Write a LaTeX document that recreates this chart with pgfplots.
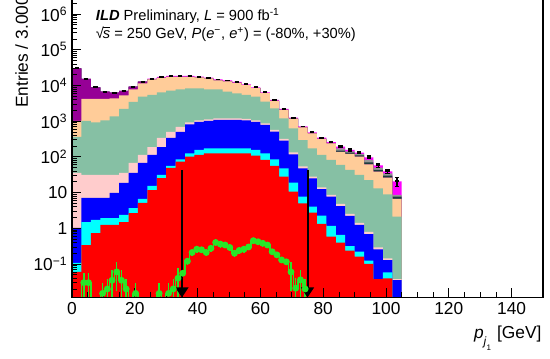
\documentclass[border=0pt]{standalone}
\usepackage{fontspec}
\setmainfont{Liberation Sans}
\usepackage{pgfplots}
\pgfplotsset{compat=1.18}
\usepackage{pgfplotstable}
\usetikzlibrary{arrows.meta}
\definecolor{cRed}{RGB}{255,0,0}
\definecolor{cCyan}{RGB}{0,255,255}
\definecolor{cBlue}{RGB}{0,0,255}
\definecolor{cPink}{RGB}{255,204,204}
\definecolor{cSea}{RGB}{134,192,164}
\definecolor{cPeach}{RGB}{255,204,153}
\definecolor{cPurple}{RGB}{150,0,150}
\definecolor{cTeal}{RGB}{25,60,60}
\definecolor{cGray}{RGB}{150,150,150}
\definecolor{cMag}{RGB}{255,0,255}
\definecolor{cGreen}{RGB}{40,230,40}

% cumulative stack tops, 3 GeV bins (left edges); first/last rows close the fills at the bottom
\pgfplotstableread{
x red cyan blue pink sea peach purple teal gray total
0 0.005 0.005 0.005 0.005 0.005 0.005 0.005 0.005 0.005 0.005
0 0.060 0.107 1.02 35.4 361 1013 30330 30330 30330 30330
3 0.340 1.50 7.06 31.1 1013 4185 15210 15210 15210 15210
6 0.738 1.71 7.06 31.1 919 4185 8906 8906 8906 8906
9 1.24 1.94 7.06 31.1 1046 4185 6703 6703 6703 6703
12 1.24 1.94 9.74 31.1 1354 4324 6284 6284 6284 6284
15 1.50 2.36 18.6 35.4 2196 5247 7015 7015 7015 7015
18 2.68 3.70 35.4 67.5 3450 7727 9256 9256 9256 9256
21 5.11 6.62 67.5 113 4857 11380 12780 12780 12780 12780
24 11.8 15.3 113 189 5418 14730 14730 14730 14730 15510
27 25.6 31.1 189 338 6449 16430 16430 16430 16430 17300
30 48.9 55.6 338 498 7151 17530 17530 17530 17530 18460
33 73.4 84.6 498 688 7828 17530 17530 17530 17530 18460
36 101 126 808 919 8348 17530 17530 17530 17530 18460
39 113 156 950 1046 8348 16750 16750 16750 16750 17640
42 126 174 1013 1116 7828 15710 15710 15710 15710 16540
45 126 174 1080 1190 7828 13990 13990 13990 13990 14730
48 126 174 1080 1190 6703 13110 13110 13110 13110 13800
51 126 174 1080 1190 6046 11900 11900 11900 11900 12530
54 126 174 1046 1152 5418 10260 10260 10260 10260 10800
57 108 156 950 1046 4857 8457 8457 8457 8457 8906
60 81.9 126 783 862 3518 6124 6124 6124 6124 6449
63 55.6 85.7 508 567 2298 3728 3728 3728 3728 3925
66 27.9 47.9 284 317 1206 2086 2086 2086 2086 2196
69 10.6 18.9 118 133 633 1175 1175 1175 1175 1253
72 5.01 7.68 47.9 53.8 297 666 666 666 666 710
75 2.74 4.03 25.2 28.2 174 452 452 452 452 489
78 1.32 2.25 12.4 13.9 113 317 317 317 317 345
81 0.582 1.16 7.68 8.57 81.9 237 237 237 237 261
84 0.395 0.649 4.21 4.79 59.3 137 137 149 172 193
87 0.236 0.319 2.21 2.52 43.0 121 121 131 142 156
90 0.160 0.221 1.24 1.41 31.1 101 101 111 121 131
93 0.100 0.124 0.692 0.788 22.5 62.0 62.0 70.6 81.9 97.4
96 0.038 0.038 0.258 0.290 13.2 38.5 38.5 43.0 49.8 58.2
99 0.0398 0.0586 0.129 0.143 8.96 26.2 26.2 29.7 34.7 39.5
102 0.005 0.005 0.0356 0.038 2.11 6.62 6.62 7.68 8.57 20.7
105 0.005 0.005 0.0356 0.038 2.11 6.62 6.62 7.68 8.57 20.7
105 0.005 0.005 0.005 0.005 0.005 0.005 0.005 0.005 0.005 0.005
}\stack

\pgfplotstableread{
x y e
1.5 30330 0
4.5 15210 0
7.5 8906 0
10.5 6703 0
13.5 6284 0
16.5 7015 0
19.5 9256 0
22.5 12780 0
25.5 15510 0
28.5 17300 0
31.5 18460 0
34.5 18460 0
37.5 18460 0
40.5 17640 0
43.5 16540 0
46.5 14730 0
49.5 13800 0
52.5 12530 0
55.5 10800 0
58.5 8906 0
61.5 6449 0
64.5 3925 0
67.5 2196 0
70.5 1253 0
73.5 710 0
76.5 489 0
79.5 345 0
82.5 261 0
85.5 193 10
88.5 156 10
91.5 131 8.5
94.5 97.4 9.5
97.5 58.2 6.4
100.5 39.5 5
103.5 20.7 6
}\datapts

% signal histogram, 1.5 GeV bins (left edges where the value changes); empty bins sit on the frame
\pgfplotstableread{
x y
0 0.0115
3 0.03
6 0.0115
9 0.015
10.5 0.02
12 0.035
13.5 0.06
15 0.035
16.5 0.02
18 0.0115
19.5 0.015
21 0.0115
27 0.015
28.5 0.0115
30 0.015
31.5 0.02
33 0.04
34.5 0.055
36 0.12
37.5 0.21
39 0.26
40.5 0.25
42 0.21
43.5 0.275
45 0.40
46.5 0.36
48 0.34
49.5 0.29
51 0.20
52.5 0.24
54 0.26
55.5 0.30
57 0.45
58.5 0.42
60 0.38
61.5 0.34
63 0.22
64.5 0.18
66 0.13
67.5 0.115
69 0.06
70.5 0.021
72 0.036
73.5 0.02
75 0.0115
150 0.0115
}\greenline

\pgfplotstableread{
x y ep em
3.75 0.03 0.027 0.021
5.25 0.03 0.027 0.021
9.75 0.015 0.0135 0.0105
11.25 0.02 0.018 0.014
12.75 0.035 0.0315 0.0245
14.25 0.06 0.054 0.042
15.75 0.035 0.0315 0.0245
17.25 0.02 0.018 0.014
20.25 0.015 0.0135 0.0105
27.75 0.015 0.0135 0.0105
30.75 0.015 0.0135 0.0105
32.25 0.02 0.018 0.014
33.75 0.04 0.036 0.028
35.25 0.055 0.05 0.0385
36.75 0.12 0.024 0.024
38.25 0.21 0.042 0.042
39.75 0.26 0.052 0.052
41.25 0.25 0.05 0.05
42.75 0.21 0.042 0.042
44.25 0.275 0.055 0.055
45.75 0.40 0.08 0.08
47.25 0.36 0.072 0.072
48.75 0.34 0.068 0.068
50.25 0.29 0.058 0.058
51.75 0.20 0.04 0.04
53.25 0.24 0.048 0.048
54.75 0.26 0.052 0.052
56.25 0.30 0.06 0.06
57.75 0.45 0.09 0.09
59.25 0.42 0.084 0.084
60.75 0.38 0.076 0.076
62.25 0.34 0.068 0.068
63.75 0.22 0.044 0.044
65.25 0.18 0.036 0.036
66.75 0.13 0.026 0.026
68.25 0.115 0.023 0.023
69.75 0.06 0.054 0.042
71.25 0.021 0.019 0.015
72.75 0.036 0.032 0.025
74.25 0.02 0.018 0.014
}\greenerr

\begin{document}
\begin{tikzpicture}
\begin{axis}[
  at={(0,0)}, anchor=south west,
  scale only axis, width=353.25pt, height=255.4pt,
  xmin=0, xmax=150, ymode=log, ymin=0.01153, ymax=3.975e7,
  axis on top,
  tick pos=left,
  xtick={0,20,40,60,80,100,120,140}, minor x tick num=3,
  ytick={0.1,1,10,100,1000,10000,100000,1000000},
  yticklabels={10\textsuperscript{−1},1,10,10\textsuperscript{2},10\textsuperscript{3},10\textsuperscript{4},10\textsuperscript{5},10\textsuperscript{6}},
  minor ytick={0.02,0.03,0.04,0.05,0.06,0.07,0.08,0.09,0.2,0.3,0.4,0.5,0.6,0.7,0.8,0.9,2,3,4,5,6,7,8,9,20,30,40,50,60,70,80,90,200,300,400,500,600,700,800,900,2000,3000,4000,5000,6000,7000,8000,9000,20000,30000,40000,50000,60000,70000,80000,90000,200000,300000,400000,500000,600000,700000,800000,900000,2000000,3000000,4000000,5000000,6000000,7000000,8000000,9000000},
  major tick length=7pt, minor tick length=4pt,
  tick style={black, line width=0.6pt},
  ticklabel style={font=\fontsize{13}{15}\selectfont},
  /pgf/number format/assume math mode=true,
  axis line style={line width=0.8pt},
]
\addplot[fill=cMag, draw=none, const plot] table[x=x, y=total] {\stack};
\addplot[fill=cGray, draw=none, const plot] table[x=x, y=gray] {\stack};
\addplot[fill=cTeal, draw=none, const plot] table[x=x, y=teal] {\stack};
\addplot[fill=cPurple, draw=none, const plot] table[x=x, y=purple] {\stack};
\addplot[fill=cPeach, draw=none, const plot] table[x=x, y=peach] {\stack};
\addplot[fill=cSea, draw=none, const plot] table[x=x, y=sea] {\stack};
\addplot[fill=cPink, draw=none, const plot] table[x=x, y=pink] {\stack};
\addplot[fill=cBlue, draw=none, const plot] table[x=x, y=blue] {\stack};
\addplot[fill=cCyan, draw=none, const plot] table[x=x, y=cyan] {\stack};
\addplot[fill=cRed, draw=none, const plot] table[x=x, y=red] {\stack};
% signal
\addplot[cGreen, line width=1.1pt, const plot, mark=none] table[x=x, y=y] {\greenline};
\addplot[cGreen, only marks, mark=none, line width=1.1pt,
  error bars/.cd, y dir=both, y explicit, error mark=none,
  error bar style={cGreen, line width=1.1pt}]
  table[x=x, y=y, y error plus=ep, y error minus=em] {\greenerr};
% cut arrows
\addplot[black, line width=1.5pt, -{Triangle[length=7.5pt, width=9.5pt]}] coordinates {(35,43) (35,0.01153)};
\addplot[black, line width=1.5pt, -{Triangle[length=7.5pt, width=9.5pt]}] coordinates {(75,43) (75,0.01153)};
% total with errors
\addplot[black, only marks, mark=-, mark size=1.6pt, mark options={line width=1.3pt},
  error bars/.cd, y dir=both, y explicit, error mark=-,
  error bar style={black, line width=0.8pt},
  error mark options={rotate=90, black, mark size=1.6pt, line width=0.8pt}]
  table[x=x, y=y, y error=e] {\datapts};
\end{axis}
\node[anchor=base west, inner sep=0, font=\fontsize{11}{13}\selectfont] at (17.8pt,207.6pt)
  {{\bfseries\itshape ILD} Preliminary, \textit{L} = 900 fb\textsuperscript{-1}};
\node[anchor=base west, inner sep=0, font=\fontsize{11}{13}\selectfont] at (17.8pt,193.9pt)
  {√\kern-0.08em\rlap{\rule[0.74em]{0.5em}{0.06em}}\textit{s} = 250 GeV, \textit{P}(\textit{e}\textsuperscript{−}, \textit{e}\textsuperscript{+}) = (-80\%, +30\%)};
\node[rotate=90, anchor=base west, inner sep=0, font=\fontsize{13}{15}\selectfont] at (-33pt,142.1pt)
  {Entries / 3.000 GeV};
\node[anchor=base east, inner sep=0, font=\fontsize{13}{15}\selectfont] at (352.3pt,-30.4pt)
  {\textit{p}\raisebox{-0.45em}{\fontsize{9}{10}\selectfont\textit{j}\raisebox{-0.35em}{\fontsize{6}{7}\selectfont 1}}\hspace{0.35em}[GeV]};
\pgfresetboundingbox
\path[use as bounding box] (-54pt,-46.125pt) rectangle (358.5pt,223.125pt);
\end{tikzpicture}
\end{document}
